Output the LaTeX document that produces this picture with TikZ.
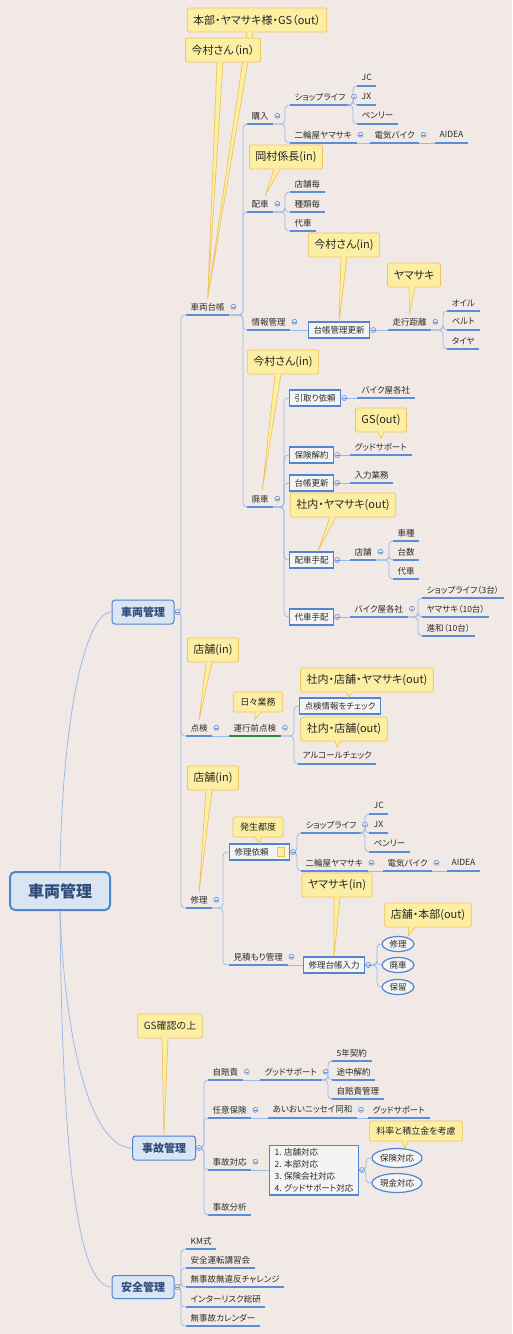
\documentclass[tikz,border=0pt]{standalone}
\usepackage{fontspec}
\setmainfont{Noto Sans CJK JP}[RawFeature=+palt]
\usetikzlibrary{shapes.geometric}

\newcommand{\branch}[3]{\draw[link] (#1) -- (#1 -| #2,0) |- (#3);}
\newcommand{\pointer}[3]{%
  \fill[noteFill] ([xshift=#2-3pt,yshift=1pt]#1.south) -- (#3) -- ([xshift=#2+3pt,yshift=1pt]#1.south) -- cycle;
  \draw[noteLine,line width=0.7pt] ([xshift=#2-3pt,yshift=0.3pt]#1.south) -- (#3) -- ([xshift=#2+3pt,yshift=0.3pt]#1.south);}

\begin{document}
\begin{tikzpicture}[x=1pt, y=-1pt,
    topicBase/.style={anchor=south west, inner xsep=4.5pt, inner ysep=0pt, minimum height=16pt, text=textColour, font=\fontsize{8.5}{10}\selectfont},
    topic/.style={topicBase, append after command={(\tikzlastnode.south west) edge[uline] (\tikzlastnode.south east)}},
    uline/.style={draw=ulineColour, line width=1.3pt},
    link/.style={draw=linkColour, line width=0.8pt, rounded corners=4pt},
    box/.style={anchor=west, draw=boxColour, line width=1.2pt, fill=boxFill, inner xsep=5pt, inner ysep=0pt, minimum height=16pt, text=textColour, font=\fontsize{8.5}{10}\selectfont},
    oval/.style={ellipse, draw=boxColour, line width=1.2pt, fill=boxFill, inner sep=0pt, minimum width=32pt, minimum height=15pt, text=textColour, font=\fontsize{8.5}{10}\selectfont},
    main/.style={draw=boxColour, line width=1pt, fill=mainFill, rounded corners=3pt, minimum width=62pt, minimum height=24pt, inner sep=0pt, text=mainText, font=\fontsize{11}{13}\selectfont\bfseries},
    note/.style={draw=noteLine, line width=0.7pt, fill=noteFill, rounded corners=2pt, inner xsep=6pt, inner ysep=0pt, minimum height=24pt, text=black!85, font=\fontsize{11}{13}\selectfont},
    smallnote/.style={note, minimum height=20pt, inner xsep=7pt, font=\fontsize{9}{11}\selectfont},
    fold/.style={circle, draw=ulineColour, fill=bgColour, line width=0.6pt, inner sep=0pt, minimum size=5pt,
      path picture={\draw[ulineColour, line width=0.5pt] ([xshift=-1.3pt]path picture bounding box.center) -- ([xshift=1.3pt]path picture bounding box.center);}}]
    \definecolor{bgColour}{HTML}{F0E9E6}
    \definecolor{textColour}{HTML}{2C2C2C}
    \definecolor{ulineColour}{HTML}{5A8ED8}
    \definecolor{linkColour}{HTML}{9DBBE6}
    \definecolor{boxColour}{HTML}{4F86D2}
    \definecolor{boxFill}{HTML}{F4F4F4}
    \definecolor{mainFill}{HTML}{DAE5F3}
    \definecolor{mainText}{HTML}{2F4C7A}
    \definecolor{noteFill}{HTML}{FCEFA4}
    \definecolor{noteLine}{HTML}{F1C35B}
    \definecolor{checkColour}{HTML}{2E8B3A}

    \fill[bgColour] (0,0) rectangle (512,1334);
    \useasboundingbox (0,0) rectangle (512,1334);

    \node[main, line width=2pt, rounded corners=5pt, minimum width=100pt, minimum height=38pt, font=\fontsize{16}{18}\selectfont\bfseries] (root) at (60,891) {車両管理};
    \node[main] (vm) at (143,612) {車両管理};
    \node[main, minimum width=63pt] (jk) at (164,1148) {事故管理};
    \node[main, minimum height=23pt] (az) at (143,1287) {安全管理};

    \draw[link] (root.north) .. controls (62,720) and (85,612) .. (vm.west);
    \draw[link] (root.south) .. controls (66,1060) and (95,1148) .. (jk.west);
    \draw[link] (root.south) .. controls (62,1160) and (78,1287) .. (az.west);

    \node[topic] (shadai) at (186,315) {車両台帳};
    \node[topic] (tenken) at (186,736) {点検};
    \node[topic] (shuri) at (186,908) {修理};
    \foreach \n in {shadai,tenken,shuri} \branch{vm.east}{181}{\n.south west};

    \node[topic] (konyu) at (247,124) {購入};
    \node[topic] (haisha) at (247,212) {配車};
    \node[topic] (joho) at (247,330) {情報管理};
    \node[topic] (haiki) at (247,507) {廃車};
    \foreach \n in {konyu,haisha,joho,haiki} \branch{shadai.south east}{243}{\n.south west};

    \node[topic] (shopA) at (290,105) {ショップライフ};
    \node[topic] (nirinA) at (290,143) {二輪屋ヤマサキ};
    \foreach \n in {shopA,nirinA} \branch{konyu.south east}{285}{\n.south west};
    \foreach \n/\txt/\y in {jcA/JC/86, jxA/JX/105, penA/ペンリー/124} {
        \node[topic] (\n) at (357,\y) {\txt};
        \branch{shopA.south east}{353}{\n.south west};
    }
    \node[topic] (denkiA) at (370,143) {電気バイク};
    \node[topic] (aideaA) at (435,143) {AIDEA};
    \draw[link] (nirinA.south east) -- (denkiA.south west);
    \draw[link] (denkiA.south east) -- (aideaA.south west);

    \foreach \n/\txt/\y in {tenpoA/店舗毎/192, shuruiA/種類毎/212, daiA/代車/231} {
        \node[topic] (\n) at (290,\y) {\txt};
        \branch{haisha.south east}{285}{\n.south west};
    }

    \node[box] (kousin) at (308,330) {台帳管理更新};
    \draw[link] (joho.south east) -- (kousin.west);
    \node[topic] (soko) at (388,330) {走行距離};
    \draw[link] (kousin.east) -- (soko.south west);
    \foreach \n/\txt/\y in {oil/オイル/311, belt/ベルト/330, tire/タイヤ/349} {
        \node[topic] (\n) at (447,\y) {\txt};
        \branch{soko.south east}{443}{\n.south west};
    }

    \node[box] (hikitori) at (289,398) {引取り依頼};
    \node[box] (kaiyaku) at (289,455) {保険解約};
    \node[box] (koshin) at (289,483) {台帳更新};
    \node[box] (tehaiA) at (289,560) {配車手配};
    \node[box] (tehaiB) at (289,617) {代車手配};
    \foreach \n in {hikitori,kaiyaku,koshin,tehaiA,tehaiB} \branch{haiki.south east}{284}{\n.west};

    \node[topic] (bikeA) at (357,398) {バイク屋各社};
    \draw[link] (hikitori.east) -- (bikeA.south west);
    \node[topic] (gsA) at (350,455) {グッドサポート};
    \draw[link] (kaiyaku.east) -- (gsA.south west);
    \node[topic] (nyuryoku) at (350,483) {入力業務};
    \draw[link] (koshin.east) -- (nyuryoku.south west);
    \node[topic] (tenpoB) at (350,560) {店舗};
    \draw[link] (tehaiA.east) -- (tenpoB.south west);
    \foreach \n/\txt/\y in {shashu/車種/541, daisu/台数/560, daiB/代車/579} {
        \node[topic] (\n) at (393,\y) {\txt};
        \branch{tenpoB.south east}{389}{\n.south west};
    }
    \node[topic] (bikeB) at (350,617) {バイク屋各社};
    \draw[link] (tehaiB.east) -- (bikeB.south west);
    \foreach \n/\txt/\y in {shopB/ショップライフ（3台）/598, yamaB/ヤマサキ（10台）/617, shinwa/進和（10台）/636} {
        \node[topic] (\n) at (422,\y) {\txt};
        \branch{bikeB.south east}{418}{\n.south west};
    }

    \node[topicBase] (unko) at (229,736) {運行前点検};
    \draw[checkColour, line width=1.3pt] (unko.south west) -- (unko.south east);
    \draw[link] (tenken.south east) -- (unko.south west);
    \node[box] (chk) at (299,706) {点検情報をチェック};
    \node[topic] (alc) at (298,764) {アルコールチェック};
    \branch{unko.south east}{294}{chk.west};
    \branch{unko.south east}{294}{alc.south west};

    \node[box] (irai) at (229,852) {\makebox[50pt][l]{修理依頼}};
    \filldraw[fill=noteFill, draw=noteLine, line width=0.4pt] ([xshift=-13pt,yshift=-4.5pt]irai.east) rectangle ++(7pt,9pt);
    \node[topic] (mitsumori) at (229,965) {見積もり管理};
    \branch{shuri.south east}{223}{irai.west};
    \branch{shuri.south east}{223}{mitsumori.south west};

    \node[topic] (shopC) at (301,833) {ショップライフ};
    \node[topic] (nirinC) at (301,871) {二輪屋ヤマサキ};
    \foreach \n in {shopC,nirinC} \branch{irai.east}{297}{\n.south west};
    \foreach \n/\txt/\y in {jcC/JC/814, jxC/JX/833, penC/ペンリー/852} {
        \node[topic] (\n) at (369,\y) {\txt};
        \branch{shopC.south east}{365}{\n.south west};
    }
    \node[topic] (denkiC) at (383,871) {電気バイク};
    \node[topic] (aideaC) at (447,871) {AIDEA};
    \draw[link] (nirinC.south east) -- (denkiC.south west);
    \draw[link] (denkiC.south east) -- (aideaC.south west);

    \node[box] (shudai) at (303,965) {修理台帳入力};
    \draw[link] (mitsumori.south east) -- (shudai.west);
    \foreach \n/\txt/\y in {ovA/修理/944, ovB/廃車/965, ovC/保留/987} {
        \node[oval] (\n) at (398,\y) {\txt};
        \branch{shudai.east}{377}{\n.west};
    }

    \foreach \n/\txt/\y in {jibai/自賠責/1080, nini/任意保険/1118, taio/事故対応/1170, bunseki/事故分析/1215} {
        \node[topic] (\n) at (208,\y) {\txt};
        \branch{jk.east}{204}{\n.south west};
    }
    \node[topic] (gsB) at (260,1080) {グッドサポート};
    \draw[link] (jibai.south east) -- (gsB.south west);
    \foreach \n/\txt/\y in {keiyaku/5年契約/1061, tochu/途中解約/1080, kanri/自賠責管理/1099} {
        \node[topic] (\n) at (332,\y) {\txt};
        \branch{gsB.south east}{328}{\n.south west};
    }
    \node[topic] (aioi) at (268,1118) {あいおいニッセイ同和};
    \draw[link] (nini.south east) -- (aioi.south west);
    \node[topic] (gsC) at (368,1118) {グッドサポート};
    \draw[link] (aioi.south east) -- (gsC.south west);
    \node[box, align=left, font=\fontsize{8.5}{12}\selectfont, inner ysep=3pt] (taiolist) at (269,1170) {1. 店舗対応\\2. 本部対応\\3. 保険会社対応\\4. グッドサポート対応};
    \draw[link] (taio.south east) -- (taiolist.west);
    \foreach \n/\txt/\y in {hokenC/保険対応/1158, genkin/現金対応/1183} {
        \node[oval, minimum width=50pt, minimum height=19pt] (\n) at (397,\y) {\txt};
        \branch{taiolist.east}{366}{\n.west};
    }

    \foreach \n/\txt/\y in {km/KM式/1249, koshu/安全運転講習会/1268, challenge/無事故無違反チャレンジ/1287, risk/インターリスク総研/1307, calendar/無事故カレンダー/1326} {
        \node[topic] (\n) at (186,\y) {\txt};
        \branch{az.east}{181}{\n.south west};
    }

    \foreach \n in {shadai,konyu,shopA,nirinA,denkiA,haisha,joho,soko,haiki,tenpoB,bikeB,tenken,unko,shuri,shopC,nirinC,denkiC,mitsumori,jibai,gsB,nini,aioi,taio}
        \node[fold] at ([xshift=4pt]\n.east) {};
    \foreach \n in {vm,jk,az,kousin,hikitori,kaiyaku,koshin,tehaiA,tehaiB,irai,shudai,taiolist}
        \node[fold] at ([xshift=3pt]\n.east) {};

    \node[note] (nA) at (257,20) {本部・ヤマサキ様・GS（out）};
    \pointer{nA}{-7pt}{shadai.north}
    \node[note] (nB) at (223,50) {今村さん（in）};
    \pointer{nB}{-3pt}{shadai.north}
    \node[note] (nC) at (286,157) {岡村係長(in)};
    \pointer{nC}{-9pt}{[xshift=5pt]haisha.north}
    \node[note] (nD) at (344,245) {今村さん(in)};
    \pointer{nD}{0pt}{kousin.north}
    \node[note] (nE) at (414,275) {ヤマサキ};
    \pointer{nE}{-2pt}{soko.north}
    \node[note] (nF) at (283,362) {今村さん(in)};
    \pointer{nF}{-5pt}{[xshift=2pt]haiki.north}
    \node[note] (nG) at (381,420) {GS(out)};
    \pointer{nG}{0pt}{gsA.north}
    \node[note] (nH) at (343,505) {社内・ヤマサキ(out)};
    \pointer{nH}{-10pt}{[xshift=6pt]tehaiA.north}
    \node[note] (nI) at (213,650) {店舗(in)};
    \pointer{nI}{-4pt}{tenken.north}
    \node[smallnote] (nJ) at (258,702) {日々業務};
    \pointer{nJ}{0pt}{unko.north}
    \node[note] (nK) at (367,680) {社内・店舗・ヤマサキ(out)};
    \pointer{nK}{-17pt}{[xshift=8pt]chk.north}
    \node[note] (nL) at (344,729) {社内・店舗(out)};
    \pointer{nL}{-6pt}{alc.north}
    \node[note] (nM) at (213,778) {店舗(in)};
    \pointer{nM}{-4pt}{shuri.north}
    \node[smallnote] (nN) at (258,827) {発生都度};
    \pointer{nN}{0pt}{irai.north}
    \node[note] (nO) at (337,885) {ヤマサキ(in)};
    \pointer{nO}{0pt}{shudai.north}
    \node[note] (nP) at (428,915) {店舗・本部(out)};
    \pointer{nP}{-16pt}{[xshift=10pt]ovA.north}
    \node[note, font=\fontsize{10}{12}\selectfont] (nQ) at (170,1026) {GS確認の上};
    \pointer{nQ}{-5pt}{jk.north}
    \node[smallnote] (nR) at (416,1131) {料率と積立金を考慮};
    \pointer{nR}{-11pt}{[xshift=8pt]hokenC.north}
\end{tikzpicture}
\end{document}
